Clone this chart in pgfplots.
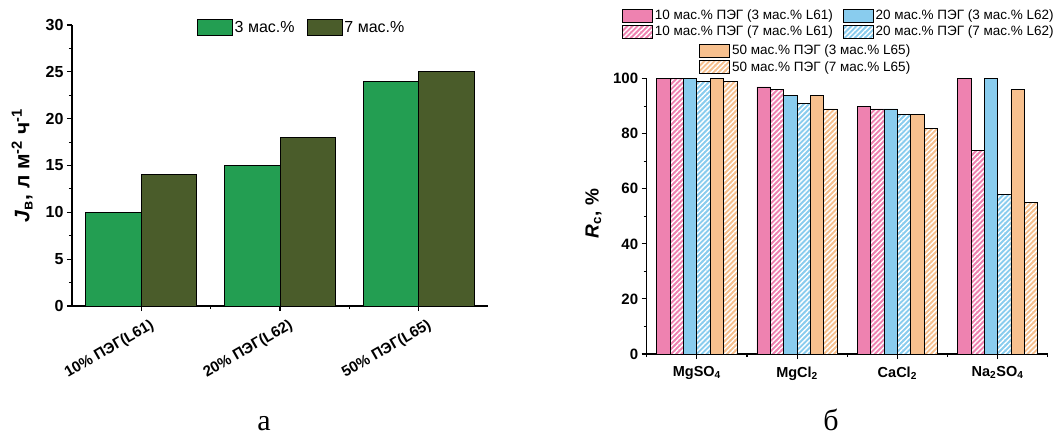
\documentclass[border=0pt]{standalone}
\usepackage{pgfplots}
\pgfplotsset{compat=1.18}
\usetikzlibrary{patterns.meta}
\usepackage{fontspec}
\setmainfont{Liberation Sans}
\newfontfamily\capfont{Liberation Serif}
\definecolor{cgreen}{RGB}{35,158,82}
\definecolor{colive}{RGB}{74,92,42}
\definecolor{cpink}{RGB}{238,130,176}
\definecolor{cblue}{RGB}{137,204,238}
\definecolor{corange}{RGB}{247,192,142}
\tikzset{hatch/.style={postaction={pattern={Lines[angle=45,distance=3.6pt,line width=1.4pt]},pattern color=white}}}
\pgfplotsset{
  common/.style={
    scale only axis,
    axis lines=left,
    axis line style={line width=1.3pt,-},
    tick align=outside,
    tick style={line width=1.1pt,black},
    major tick length=5pt, minor tick length=3pt,
    /pgf/number format/assume math mode=true,
    ybar, 
  },
}
\begin{document}
\begin{tikzpicture}[x=1pt,y=1pt]
\useasboundingbox (0,0) rectangle (1056,432);
% ---------- panel a ----------
\begin{axis}[common,
  at={(72pt,126pt)}, anchor=south west,
  width=416pt, height=281pt,
  xmin=0.5, xmax=3.5, ymin=0, ymax=30,
  bar width=0.4,
  xtick={1,2,3},
  xticklabels={10\% ПЭГ(L61),20\% ПЭГ(L62),50\% ПЭГ(L65)},
  minor xtick={1.5,2.5},
  ytick={0,5,...,30}, minor ytick={2.5,7.5,...,27.5},
  yticklabel style={font=\bfseries\fontsize{16}{18}\selectfont},
  xticklabel style={xshift=8pt, yshift=-7pt, rotate=30, anchor=north east, inner sep=0pt, font=\bfseries\fontsize{15}{17}\selectfont},
  ylabel={\textbf{\textit{J}\textsubscript{в}, л м\textsuperscript{-2} ч\textsuperscript{-1}}},
  ylabel style={font=\fontsize{21}{23}\selectfont, inner sep=0pt, at={(axis description cs:-0.094,0.5)}, anchor=south},
  legend columns=2,
  legend style={draw=none, fill=none, at={(axis description cs:0.552,0.99)}, anchor=center,
    font=\fontsize{16}{18}\selectfont,
    /tikz/every even column/.append style={column sep=10pt}},
  legend image code/.code={\draw[#1] (0pt,-8pt) rectangle (35pt,8pt);},
]
\addplot[fill=cgreen, draw=black, line width=0.8pt, bar shift=-0.2] coordinates {(1,10) (2,15) (3,24)};
\addplot[fill=colive, draw=black, line width=0.8pt, bar shift=0.2] coordinates {(1,14) (2,18) (3,25)};
\legend{3 мас.\%, 7 мас.\%}
\end{axis}
% ---------- panel b ----------
\begin{axis}[common,
  at={(646.7pt,78pt)}, anchor=south west,
  width=401pt, height=275.3pt,
  xmin=0.5, xmax=4.5, ymin=0, ymax=100,
  bar width=0.13333,
  xtick={1,2,3,4},
  xticklabels={MgSO\textsubscript{4},MgCl\textsubscript{2},CaCl\textsubscript{2},Na\textsubscript{2}SO\textsubscript{4}},
  minor xtick={0.5,1.5,2.5,3.5,4.5},
  ytick={0,20,...,100}, minor ytick={10,30,...,90},
  yticklabel style={font=\bfseries\fontsize{15}{17}\selectfont},
  xticklabel style={yshift=-4pt, font=\bfseries\fontsize{14.5}{16}\selectfont},
  ylabel={\textbf{\textit{R}\textsubscript{с}, \%}},
  ylabel style={font=\fontsize{19}{21}\selectfont, inner sep=0pt, at={(axis description cs:-0.112,0.51)}, anchor=south},
  legend columns=2, transpose legend,
  legend style={draw=none, fill=none, at={(axis description cs:-0.062,1.258)}, anchor=north west,
    font=\fontsize{13.5}{15}\selectfont, row sep=1pt, inner sep=0pt,
    /tikz/every even column/.append style={column sep=8pt},
    /tikz/every odd column/.append style={column sep=0pt}},
  legend cell align=left,
  legend image code/.code={\draw[#1] (0pt,-6.5pt) rectangle (30pt,6.5pt);},
]
\addplot[fill=cpink, draw=black, line width=0.7pt, bar shift=-0.33333] coordinates {(1,100) (2,97) (3,90) (4,100)};
\addplot[fill=cpink, draw=black, line width=0.7pt, hatch, bar shift=-0.2] coordinates {(1,100) (2,96) (3,89) (4,74)};
\addplot[fill=cblue, draw=black, line width=0.7pt, bar shift=-0.06667] coordinates {(1,100) (2,94) (3,89) (4,100)};
\addplot[fill=cblue, draw=black, line width=0.7pt, hatch, bar shift=0.06667] coordinates {(1,99) (2,91) (3,87) (4,58)};
\addplot[fill=corange, draw=black, line width=0.7pt, bar shift=0.2, forget plot] coordinates {(1,100) (2,94) (3,87) (4,96)};
\addplot[fill=corange, draw=black, line width=0.7pt, hatch, bar shift=0.33333, forget plot] coordinates {(1,99) (2,89) (3,82) (4,55)};
\legend{10 мас.\% ПЭГ (3 мас.\% L61), 10 мас.\% ПЭГ (7 мас.\% L61), 20 мас.\% ПЭГ (3 мас.\% L62), 20 мас.\% ПЭГ (7 мас.\% L62)}
\end{axis}
\begin{axis}[
  at={(646.7pt,78pt)}, anchor=south west, scale only axis,
  width=401pt, height=275.3pt, hide axis,
  xmin=0, xmax=1, ymin=0, ymax=1,
  legend style={draw=none, fill=none, at={(axis description cs:0.131,1.13)}, anchor=north west,
    font=\fontsize{13.5}{15}\selectfont, row sep=1pt, inner sep=0pt},
  legend cell align=left,
  legend image code/.code={\draw[#1] (0pt,-6.5pt) rectangle (30pt,6.5pt);},
]
\addlegendimage{fill=corange, draw=black, line width=0.7pt}
\addlegendimage{fill=corange, draw=black, line width=0.7pt, hatch}
\legend{50 мас.\% ПЭГ (3 мас.\% L65), 50 мас.\% ПЭГ (7 мас.\% L65)}
\end{axis}
\node[font=\capfont\fontsize{30}{32}\selectfont, anchor=base, inner sep=0pt] at (264,2) {а};
\node[font=\capfont\fontsize{30}{32}\selectfont, anchor=base, inner sep=0pt] at (831,2) {б};
\end{tikzpicture}
\end{document}
